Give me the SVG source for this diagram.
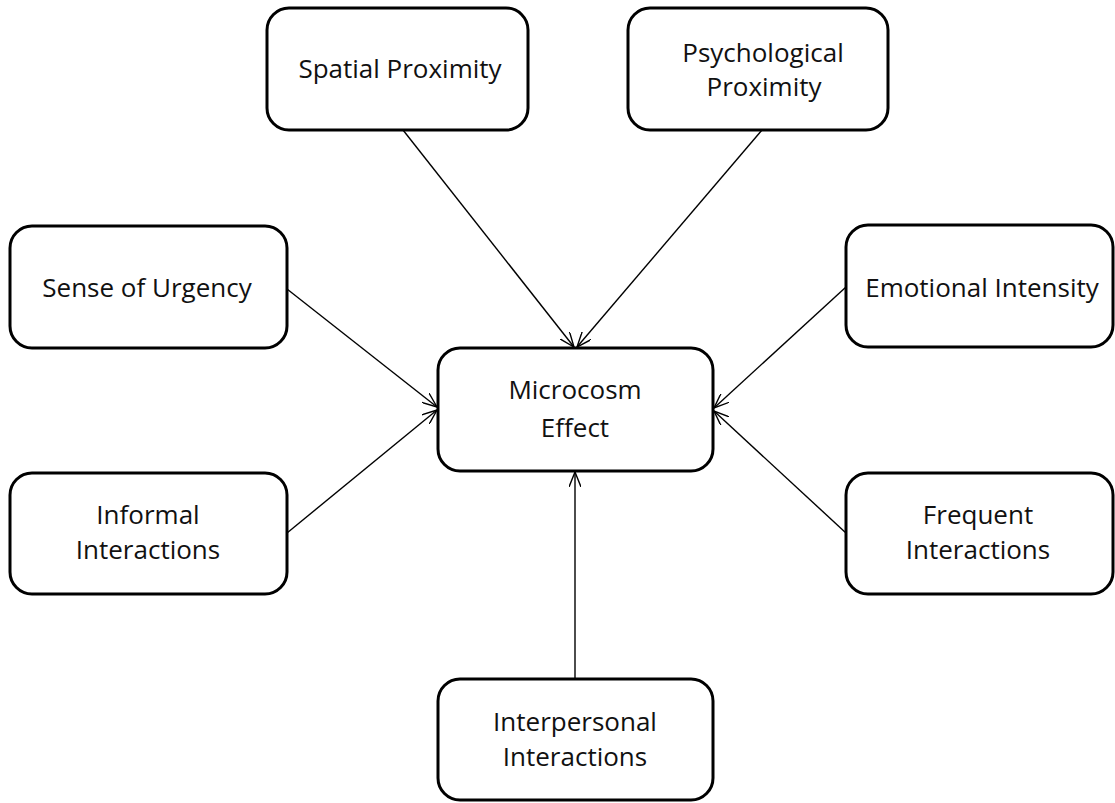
<svg xmlns="http://www.w3.org/2000/svg" width="1115" height="803" viewBox="0 0 1115 803">
<style>
.box{fill:#fff;stroke:#000;stroke-width:3}
.t{font-family:"Open Sans","Liberation Sans",sans-serif;font-size:26px;fill:#111;text-anchor:middle}
.c{stroke:#000;stroke-width:1.4;fill:none;marker-end:url(#a)}
</style>
<defs>
<marker id="a" viewBox="0 0 16 12" refX="15" refY="6" markerWidth="16" markerHeight="12" markerUnits="userSpaceOnUse" orient="auto">
<path d="M0,0 L15,6 L0,12" fill="none" stroke="#000" stroke-width="1.4"/>
</marker>
</defs>
<rect width="1115" height="803" fill="#fff"/>
<g id="connectors">
<line class="c" x1="403" y1="130" x2="574" y2="347"/>
<line class="c" x1="762" y1="130" x2="577" y2="347"/>
<line class="c" x1="287" y1="289" x2="437" y2="407"/>
<line class="c" x1="287" y1="533" x2="437" y2="410"/>
<line class="c" x1="846" y1="287" x2="714" y2="408"/>
<line class="c" x1="846" y1="533" x2="714" y2="411"/>
<line class="c" x1="575" y1="679" x2="575" y2="472"/>
</g>
<g id="spatial"><rect class="box" x="267" y="8" width="261" height="122" rx="22"/><text class="t" x="400" y="78">Spatial Proximity</text></g>
<g id="psychological"><rect class="box" x="628" y="8" width="260" height="122" rx="22"/><text class="t" x="763" y="62">Psychological</text><text class="t" x="764" y="96">Proximity</text></g>
<g id="urgency"><rect class="box" x="10" y="226" width="277" height="122" rx="22"/><text class="t" x="147" y="297">Sense of Urgency</text></g>
<g id="emotional"><rect class="box" x="846" y="225" width="267" height="122" rx="22"/><text class="t" x="982" y="297">Emotional Intensity</text></g>
<g id="microcosm"><rect class="box" x="438" y="348" width="275" height="123" rx="22"/><text class="t" x="575" y="399">Microcosm</text><text class="t" x="575" y="437">Effect</text></g>
<g id="informal"><rect class="box" x="10" y="473" width="277" height="121" rx="22"/><text class="t" x="148" y="524">Informal</text><text class="t" x="148" y="559">Interactions</text></g>
<g id="frequent"><rect class="box" x="846" y="473" width="267" height="121" rx="22"/><text class="t" x="978" y="524">Frequent</text><text class="t" x="978" y="559">Interactions</text></g>
<g id="interpersonal"><rect class="box" x="438" y="679" width="275" height="121" rx="22"/><text class="t" x="575" y="731">Interpersonal</text><text class="t" x="575" y="766">Interactions</text></g>
</svg>
